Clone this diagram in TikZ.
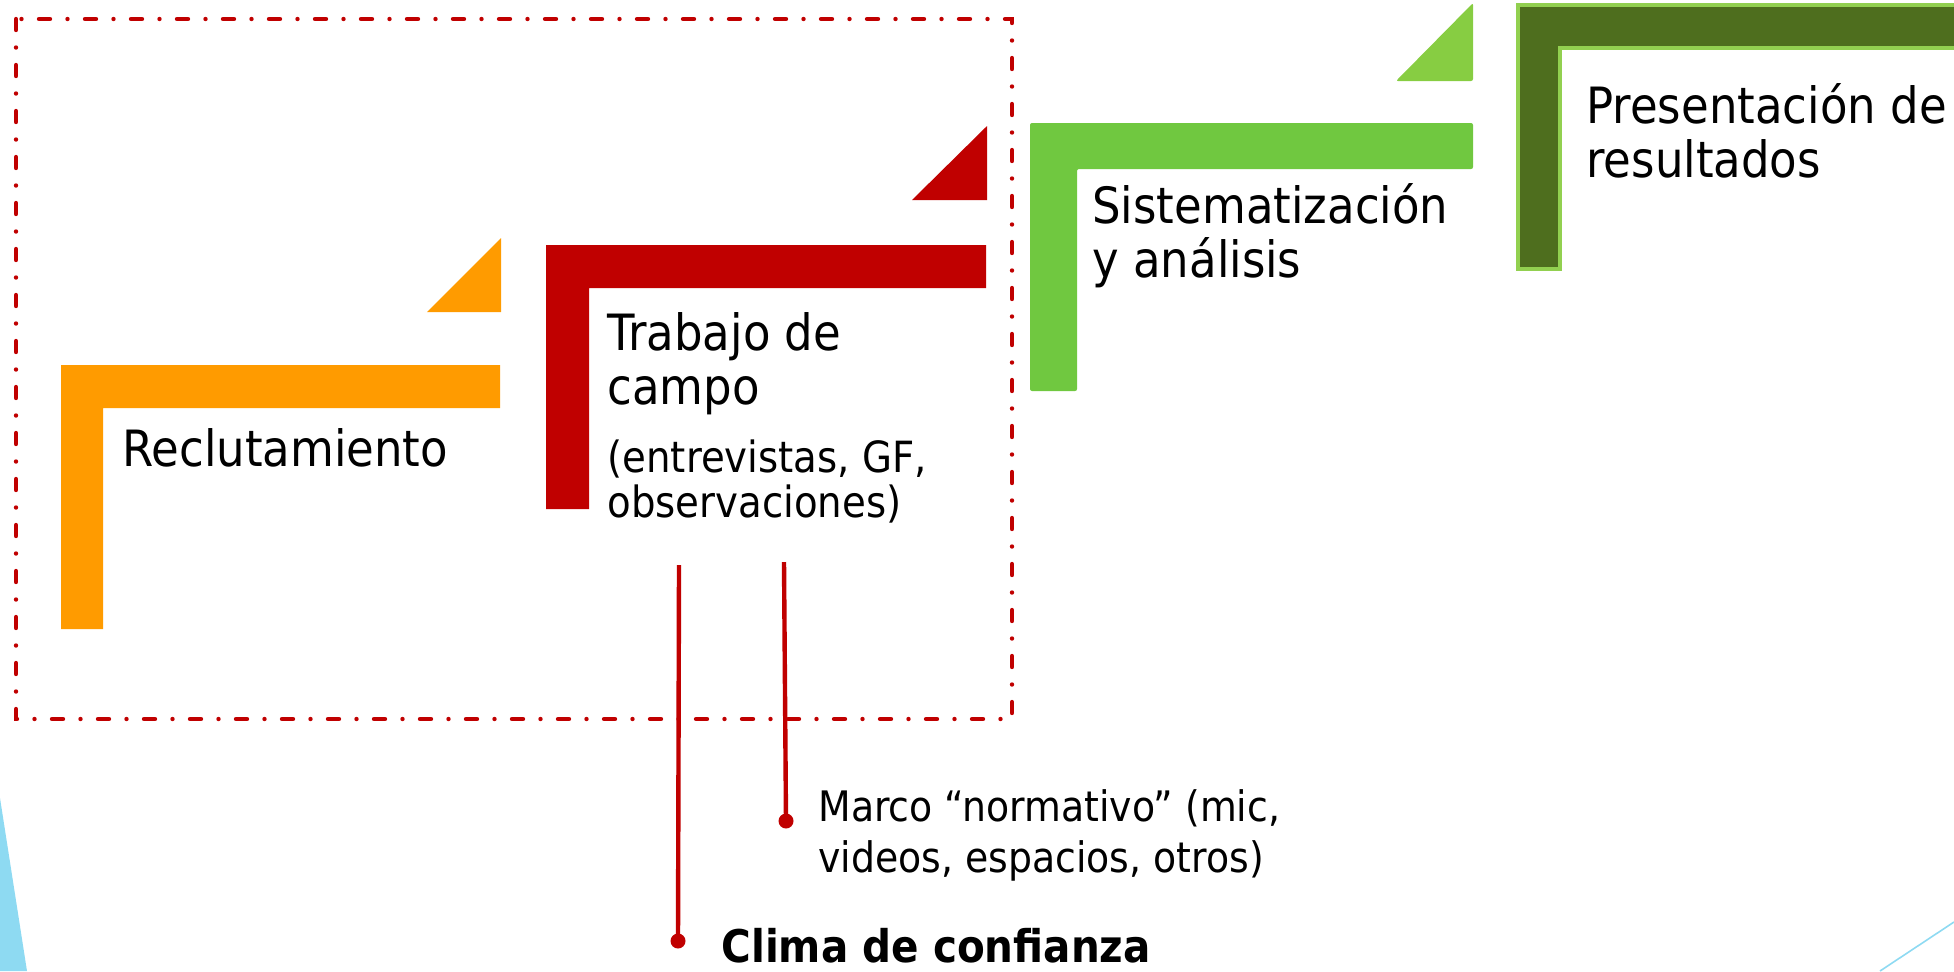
\documentclass[tikz,border=0pt]{standalone}
\usepackage{fontspec}
\setmainfont{DejaVu Sans}[FakeStretch=0.9]
\usepackage{xcolor}

\definecolor{naranja}{RGB}{255,155,0}
\definecolor{rojo}{RGB}{192,0,0}
\definecolor{verde}{RGB}{112,200,64}
\definecolor{verdeclaro}{RGB}{135,205,66}
\definecolor{verdeborde}{RGB}{146,208,80}
\definecolor{verdeoscuro}{RGB}{78,110,30}
\definecolor{celeste}{RGB}{142,218,242}

\tikzset{
    etapa/.style={anchor=base west, inner sep=0pt, align=left, font=\fontsize{25}{27}\selectfont},
    detalle/.style={anchor=base west, inner sep=0pt, align=left, font=\fontsize{21.5}{22.5}\selectfont},
    nota/.style={anchor=base west, inner sep=0pt, align=left, font=\fontsize{21}{25.5}\selectfont},
    marcolinea/.style={draw=rojo, line width=2.2pt, line cap=round, dash pattern=on 5.5pt off 8.75pt on 0pt off 8.75pt},
    guia/.style={draw=rojo, line width=2.2pt},
}

\begin{document}
\begin{tikzpicture}[x=0.5pt,y=0.5pt,yscale=-1]
        \useasboundingbox (0,0) rectangle (1954,971);
        \clip (0,0) rectangle (1954,971);

        \fill[celeste] (0,798) -- (27,971) -- (0,971) -- cycle;
        \draw[celeste, line width=0.8pt] (1880,971) -- (1954,922);

        % escalones
        \fill[naranja] (61,365) -- (500,365) -- (500,408) -- (103,408) -- (103,629) -- (61,629) -- cycle;
        \fill[naranja] (427,312) -- (501,238) -- (501,312) -- cycle;
        \fill[rojo] (546,245) -- (986,245) -- (986,288) -- (589,288) -- (589,509) -- (546,509) -- cycle;
        \fill[rojo] (912,200) -- (987,126) -- (987,200) -- cycle;
        \fill[verde, rounded corners=1pt] (1030,123) -- (1473,123) -- (1473,169) -- (1077,169) -- (1077,391) -- (1030,391) -- cycle;
        \fill[verdeclaro, rounded corners=1pt] (1396,81) -- (1473,3) -- (1473,81) -- cycle;
        \filldraw[fill=verdeoscuro, draw=verdeborde, line width=2pt] (1518,5) -- (1970,5) -- (1970,48) -- (1560,48) -- (1560,269) -- (1518,269) -- cycle;

        \draw[marcolinea] (16,19) rectangle (1012,719);

        \node[etapa] (reclut) at (122,466) {Reclutamiento};
        \node[etapa] (trabajo) at (607,404) {Trabajo de\\campo};
        \node[detalle] (obs) at (607,517) {(entrevistas, GF,\\observaciones)};
        \node[etapa] (sistem) at (1092,277) {Sistematización\\y análisis};
        \node[etapa] (present) at (1586,177) {Presentación de\\resultados};
        \node[nota] (marco) at (818,872) {Marco “normativo” (mic,\\videos, espacios, otros)};
        \node[nota, font=\fontsize{22.5}{27}\selectfont\bfseries] (clima) at (721,962) {Clima de confianza};

        \coordinate (climaini) at (679,565);
        \coordinate (climapunto) at (678,941);
        \coordinate (marcoini) at (784,562);
        \coordinate (marcopunto) at (786,821);

        \draw[guia] (climaini) -- (climapunto);
        \draw[guia] (marcoini) -- (marcopunto);
        \fill[rojo] (climapunto) circle[radius=3.75pt];
        \fill[rojo] (marcopunto) circle[radius=3.75pt];
\end{tikzpicture}
\end{document}
